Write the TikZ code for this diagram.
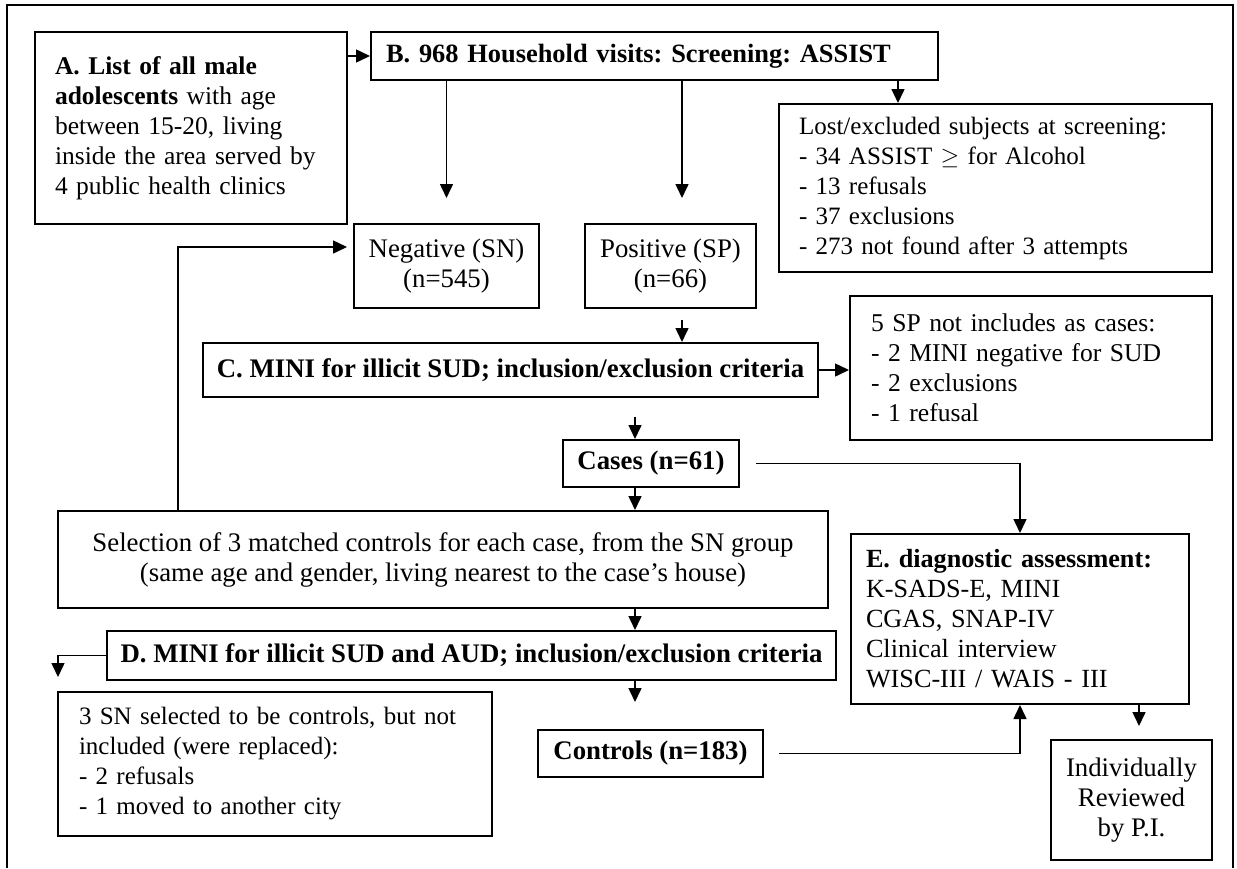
\documentclass[tikz,border=0pt]{standalone}
\usepackage{fontspec}
\setmainfont{Liberation Serif}
\usepackage{tikz}
\usetikzlibrary{arrows.meta, positioning, calc}
\newcommand{\fcsize}[1]{\fontsize{#1}{15}\selectfont\frenchspacing}
\tikzset{
    fcbox/.style={draw, line width=1pt, inner sep=0pt, anchor=north west},
    fcleft/.style={fcbox, align=left, font=\fcsize{12.5}},
    fccenter/.style={fcbox, align=center, font=\fcsize{13.4}},
    fcarrow/.style={-{Triangle[width=6.5pt, length=7pt]}, line width=0.75pt},
    fcframe/.style={line width=1pt}
}
\begin{document}
\begin{tikzpicture}[x=0.5pt, y=-0.5pt]
  \useasboundingbox (0,0) rectangle (1237,868);
  \draw[fcframe] (7,868) -- (7,5) -- (1233,5) -- (1233,868);
  % screening stage
  \node[fcleft, font=\fcsize{12.75}, inner xsep=10pt, text width=136pt, minimum height=96pt] (lst) at (34,31)
        {\textbf{A. List of all male}\\\textbf{adolescents} with age\\between 15-20, living\\inside the area served by\\4 public health clinics};
  \node[fcleft, font=\fcsize{13.2}, inner xsep=7.5pt, text width=268.5pt, minimum height=24pt] (scr) at (370,31)
        {\textbf{B. 968 Household visits: Screening: ASSIST}};
  \node[fcleft, inner xsep=10pt, text width=196.5pt, minimum height=84pt] (lost) at (778,103)
        {Lost/excluded subjects at screening:\\- 34 ASSIST $\geq$ for Alcohol\\- 13 refusals\\- 37 exclusions\\- 273 not found after 3 attempts};
  \node[fccenter, minimum width=92.5pt, minimum height=42pt] (neg) at (353,223)
        {Negative (SN)\\(n=545)};
  \node[fccenter, minimum width=85.5pt, minimum height=42pt] (pos) at (584,223)
        {Positive (SP)\\(n=66)};
  % cases
  \node[fccenter, minimum width=307.5pt, minimum height=27pt] (minic) at (202,342)
        {\textbf{C. MINI for illicit SUD; inclusion/exclusion criteria}};
  \node[fcleft, font=\fcsize{12.8}, inner xsep=10.5pt, text width=160pt, minimum height=72pt] (spout) at (849,295)
        {5 SP not includes as cases:\\- 2 MINI negative for SUD\\- 2 exclusions\\- 1 refusal};
  \node[fccenter, minimum width=88pt, minimum height=23.5pt] (cases) at (562,439)
        {\textbf{Cases (n=61)}};
  % controls
  \node[fccenter, minimum width=385pt, minimum height=48.5pt] (sel) at (57,510)
        {Selection of 3 matched controls for each case, from the SN group\\(same age and gender, living nearest to the case’s house)};
  \node[fccenter, minimum width=364.5pt, minimum height=24.5pt] (minid) at (106,630)
        {\textbf{D. MINI for illicit SUD and AUD; inclusion/exclusion criteria}};
  \node[fcleft, inner xsep=10.5pt, text width=196pt, minimum height=72pt] (snout) at (57,691)
        {3 SN selected to be controls, but not\\included (were replaced):\\- 2 refusals\\- 1 moved to another city};
  \node[fccenter, minimum width=112.5pt, minimum height=23.5pt] (ctrl) at (537,729)
        {\textbf{Controls (n=183)}};
  % assessment
  \node[fcleft, font=\fcsize{13.1}, inner xsep=7.5pt, text width=154pt, minimum height=85pt] (diag) at (850,533)
        {\textbf{E. diagnostic assessment:}\\K-SADS-E, MINI\\CGAS, SNAP-IV\\Clinical interview\\WISC-III / WAIS - III};
  \node[fccenter, minimum width=80.5pt, minimum height=60pt] (rev) at (1050,739)
        {Individually\\Reviewed\\by P.I.};
  % vertical lines of the arrows
  \coordinate (spine) at (635,0);
  \coordinate (posx) at (682,0);
  \coordinate (lostx) at (898,0);
  \coordinate (revx) at (1139,0);
  \coordinate (back) at (178,247);
  % arrows
  \draw[fcarrow] (lst.east |- scr.west) -- (scr.west);
  \draw[fcarrow, shorten >=12.5pt] (neg.north |- scr.south) -- (neg.north);
  \draw[fcarrow, shorten >=12.5pt] (scr.south -| posx) -- (pos.north -| posx);
  \draw[fcarrow] (scr.south -| lostx) -- (lost.north -| lostx);
  \draw[fcarrow, shorten <=5.5pt] (pos.south -| posx) -- (minic.north -| posx);
  \draw[fcarrow] (minic.east) -- (minic.east -| spout.west);
  \draw[fcarrow, shorten <=9.5pt] (minic.south -| spine) -- (cases.north -| spine);
  \draw[fcarrow, shorten <=8pt] (cases.east) -| (diag.north);
  \draw[fcarrow] (cases.south -| spine) -- (sel.north -| spine);
  % SN group goes back to the negatives
  \draw[fcarrow, shorten >=3pt] (sel.north -| back) -- (back) -- (back -| neg.west);
  \draw[fcarrow] (sel.south -| spine) -- (minid.north -| spine);
  \draw[fcarrow, shorten >=13.5pt] (minid.south -| spine) -- (ctrl.north -| spine);
  \draw[fcarrow, shorten >=7pt] (minid.west) -| ([xshift=0.5pt]snout.north west);
  \draw[fcarrow, shorten <=7.5pt] (ctrl.east) -| (diag.south);
  \draw[fcarrow, shorten >=6.5pt] (diag.south -| revx) -- (rev.north -| revx);
\end{tikzpicture}
\end{document}
